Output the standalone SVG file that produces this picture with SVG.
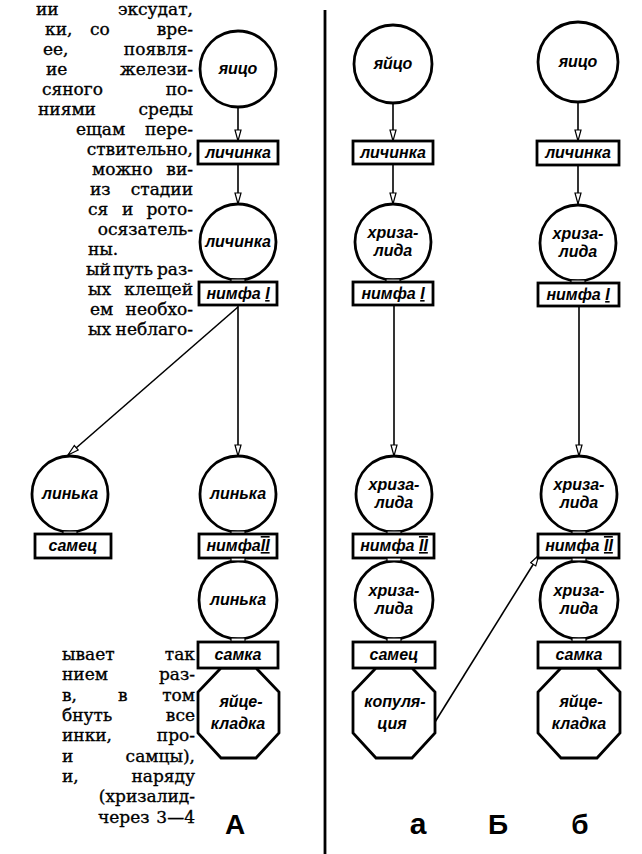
<svg xmlns="http://www.w3.org/2000/svg" width="642" height="854" viewBox="0 0 642 854">
<defs>
<style>
.n{fill:#fff;stroke:#000;stroke-width:2.8}
.nk{fill:#fff;stroke:#000;stroke-width:1.2}
.lbl{font-family:"Liberation Sans",Arial,sans-serif;font-style:italic;font-weight:bold;font-size:16px;text-anchor:middle;fill:#000}
.body{font-family:"DejaVu Serif","Liberation Serif",serif;font-size:17px;fill:#000;stroke:#000;stroke-width:0.35}
.r{text-anchor:end}
.e{stroke:#000;stroke-width:1.6;fill:none}
.big{font-family:"Liberation Sans",Arial,sans-serif;font-weight:bold;font-size:28px;text-anchor:middle;fill:#000}
</style>
<marker id="ah" markerUnits="userSpaceOnUse" markerWidth="14" markerHeight="10" refX="12" refY="4" orient="auto">
<path d="M1,1 L12,4 L1,7 z" fill="#fff" stroke="#000" stroke-width="1.2"/>
</marker>
</defs>
<rect width="642" height="854" fill="#fff"/>

<g id="body-text" class="body">
<text x="36" y="15">ии</text><text class="r" x="193" y="15">эксудат,</text>
<text x="45" y="35">ки,</text><text x="90" y="35">со</text><text class="r" x="193" y="35">вре-</text>
<text x="43" y="55">ее,</text><text class="r" x="193" y="55">появля-</text>
<text x="46" y="75">ие</text><text class="r" x="193" y="75">желези-</text>
<text x="42" y="95">сяного</text><text class="r" x="193" y="95">по-</text>
<text x="38" y="115">ниями</text><text class="r" x="193" y="115">среды</text>
<text x="76" y="135">ещам</text><text class="r" x="193" y="135">пере-</text>
<text class="r" x="193" y="155">ствительно,</text>
<text x="92" y="175">можно</text><text class="r" x="193" y="175">ви-</text>
<text x="90" y="195">из</text><text class="r" x="193" y="195">стадии</text>
<text x="88" y="215">ся</text><text x="122" y="215">и</text><text class="r" x="193" y="215">рото-</text>
<text class="r" x="193" y="235">осязатель-</text>
<text x="88" y="255">ны.</text>
<text x="86" y="275">ый</text><text x="113" y="275">путь</text><text class="r" x="193" y="275">раз-</text>
<text x="88" y="295">ых</text><text class="r" x="193" y="295">клещей</text>
<text x="90" y="315">ем</text><text class="r" x="193" y="315">необхо-</text>
<text x="88" y="335">ых</text><text class="r" x="193" y="335">неблаго-</text>

<text x="62" y="660">ывает</text><text class="r" x="195" y="660">так</text>
<text x="62" y="680">нием</text><text class="r" x="195" y="680">раз-</text>
<text x="62" y="701">в,</text><text x="118" y="701">в</text><text class="r" x="195" y="701">том</text>
<text x="62" y="721">бнуть</text><text class="r" x="195" y="721">все</text>
<text x="62" y="741">инки,</text><text class="r" x="195" y="741">про-</text>
<text x="62" y="762">и</text><text class="r" x="195" y="762">самцы),</text>
<text x="62" y="782">и,</text><text class="r" x="195" y="782">наряду</text>
<text class="r" x="195" y="802">(хризалид-</text>
<text x="98" y="823">через</text><text class="r" x="195" y="823">3—4</text>
</g>

<line id="divider" x1="325" y1="10" x2="325" y2="854" stroke="#000" stroke-width="2.8"/>

<g id="connectors">
<line class="e" x1="238" y1="107" x2="238" y2="141" marker-end="url(#ah)"/>
<line class="e" x1="238" y1="164" x2="238" y2="204" marker-end="url(#ah)"/>
<line class="e" x1="238" y1="305" x2="238" y2="456" marker-end="url(#ah)"/>
<line class="e" x1="238" y1="307" x2="68" y2="455" marker-end="url(#ah)"/>
<line class="e" x1="393" y1="103" x2="393" y2="141" marker-end="url(#ah)"/>
<line class="e" x1="393" y1="164" x2="393" y2="204" marker-end="url(#ah)"/>
<line class="e" x1="394" y1="305" x2="394" y2="456" marker-end="url(#ah)"/>
<line class="e" x1="578" y1="102" x2="578" y2="141" marker-end="url(#ah)"/>
<line class="e" x1="578" y1="165" x2="578" y2="204" marker-end="url(#ah)"/>
<line class="e" x1="579" y1="306" x2="579" y2="456" marker-end="url(#ah)"/>
<line class="e" x1="435" y1="722" x2="539" y2="555" marker-end="url(#ah)"/>
</g>

<!-- Column A -->
<g id="A-egg"><circle class="n" cx="238" cy="69" r="38"/><text class="lbl" x="238" y="74">яицо</text></g>
<g id="A-larva-box"><rect class="n" x="198" y="141" width="80" height="23"/><text class="lbl" x="238" y="158">личинка</text></g>
<g id="A-larva-circle"><circle class="n" cx="238" cy="242" r="38"/><rect class="nk" x="231" y="279" width="14" height="3"/><text class="lbl" x="238" y="247">личинка</text></g>
<g id="A-nymph1"><rect class="n" x="199" y="282" width="78" height="23"/><text class="lbl" x="238" y="299">нимфа <tspan text-decoration="underline">I</tspan></text></g>
<g id="A-molt1"><circle class="n" cx="238" cy="494" r="38"/><rect class="nk" x="231" y="531" width="14" height="3"/><text class="lbl" x="238" y="499">линька</text></g>
<g id="A-nymph2"><rect class="n" x="199" y="534" width="78" height="24"/><text class="lbl" x="238" y="551">нимфа<tspan text-decoration="underline overline">II</tspan></text></g>
<g id="A-molt2"><circle class="n" cx="238" cy="600" r="39"/><rect class="nk" x="231" y="638" width="14" height="4"/><rect class="nk" x="231" y="558" width="14" height="3"/><text class="lbl" x="238" y="605">линька</text></g>
<g id="A-oviposition"><polygon class="n" points="221,668 256,668 279,692 279,733 256,758 221,758 198,733 198,692"/><text class="lbl" x="241" y="707">яйце-</text><text class="lbl" x="238" y="729">кладка</text></g>
<g id="A-female"><rect class="n" x="198" y="642" width="80" height="26"/><text class="lbl" x="238" y="660">самка</text></g>

<!-- Left branch -->
<g id="L-molt"><circle class="n" cx="70" cy="494" r="38"/><rect class="nk" x="63" y="531" width="14" height="3"/><text class="lbl" x="70" y="499">линька</text></g>
<g id="L-male"><rect class="n" x="35" y="534" width="76" height="24"/><text class="lbl" x="73" y="551">самец</text></g>

<!-- Column a -->
<g id="a-egg"><circle class="n" cx="393" cy="64" r="39"/><text class="lbl" x="393" y="69">яйцо</text></g>
<g id="a-larva"><rect class="n" x="353" y="141" width="80" height="23"/><text class="lbl" x="393" y="158">личинка</text></g>
<g id="a-chrys1"><circle class="n" cx="393" cy="242" r="38"/><rect class="nk" x="386" y="279" width="14" height="3"/><text class="lbl" x="393" y="238">хриза-</text><text class="lbl" x="393" y="256">лида</text></g>
<g id="a-nymph1"><rect class="n" x="353" y="282" width="80" height="23"/><text class="lbl" x="393" y="299">нимфа <tspan text-decoration="underline">I</tspan></text></g>
<g id="a-chrys2"><circle class="n" cx="394" cy="494" r="38"/><rect class="nk" x="387" y="531" width="14" height="3"/><text class="lbl" x="394" y="490">хриза-</text><text class="lbl" x="394" y="508">лида</text></g>
<g id="a-nymph2"><rect class="n" x="353" y="534" width="81" height="24"/><text class="lbl" x="394" y="551">нимфа <tspan text-decoration="underline overline">II</tspan></text></g>
<g id="a-chrys3"><circle class="n" cx="394" cy="600" r="39"/><rect class="nk" x="387" y="638" width="14" height="4"/><rect class="nk" x="387" y="558" width="14" height="3"/><text class="lbl" x="394" y="596">хриза-</text><text class="lbl" x="394" y="614">лида</text></g>
<g id="a-copulation"><polygon class="n" points="376,668 412,668 435,692 435,733 412,758 376,758 353,733 353,692"/><text class="lbl" x="395" y="707">копуля-</text><text class="lbl" x="392" y="729">ция</text></g>
<g id="a-male"><rect class="n" x="353" y="642" width="82" height="26"/><text class="lbl" x="394" y="660">самец</text></g>

<!-- Column б -->
<g id="b-egg"><circle class="n" cx="578" cy="62" r="40"/><text class="lbl" x="578" y="67">яицо</text></g>
<g id="b-larva"><rect class="n" x="537" y="141" width="82" height="24"/><text class="lbl" x="578" y="158">личинка</text></g>
<g id="b-chrys1"><circle class="n" cx="578" cy="243" r="38"/><rect class="nk" x="571" y="280" width="14" height="3"/><text class="lbl" x="578" y="239">хриза-</text><text class="lbl" x="578" y="257">лида</text></g>
<g id="b-nymph1"><rect class="n" x="538" y="283" width="81" height="23"/><text class="lbl" x="578" y="300">нимфа <tspan text-decoration="underline">I</tspan></text></g>
<g id="b-chrys2"><circle class="n" cx="579" cy="494" r="38"/><rect class="nk" x="572" y="531" width="14" height="3"/><text class="lbl" x="579" y="490">хриза-</text><text class="lbl" x="579" y="508">лида</text></g>
<g id="b-nymph2"><rect class="n" x="538" y="534" width="81" height="24"/><text class="lbl" x="579" y="551">нимфа <tspan text-decoration="underline overline">II</tspan></text></g>
<g id="b-chrys3"><circle class="n" cx="579" cy="600" r="39"/><rect class="nk" x="572" y="638" width="14" height="4"/><rect class="nk" x="572" y="558" width="14" height="3"/><text class="lbl" x="579" y="596">хриза-</text><text class="lbl" x="579" y="614">лида</text></g>
<g id="b-oviposition"><polygon class="n" points="561,668 597,668 620,692 620,733 597,758 561,758 538,733 538,692"/><text class="lbl" x="581" y="707">яйце-</text><text class="lbl" x="579" y="729">кладка</text></g>
<g id="b-female"><rect class="n" x="538" y="642" width="82" height="26"/><text class="lbl" x="579" y="660">самка</text></g>

<g id="labels">
<text class="big" x="235" y="834">A</text>
<text class="big" x="418" y="834" style="font-size:30px">a</text>
<text class="big" x="498" y="834">Б</text>
<text class="big" x="580" y="834">б</text>
</g>
</svg>
